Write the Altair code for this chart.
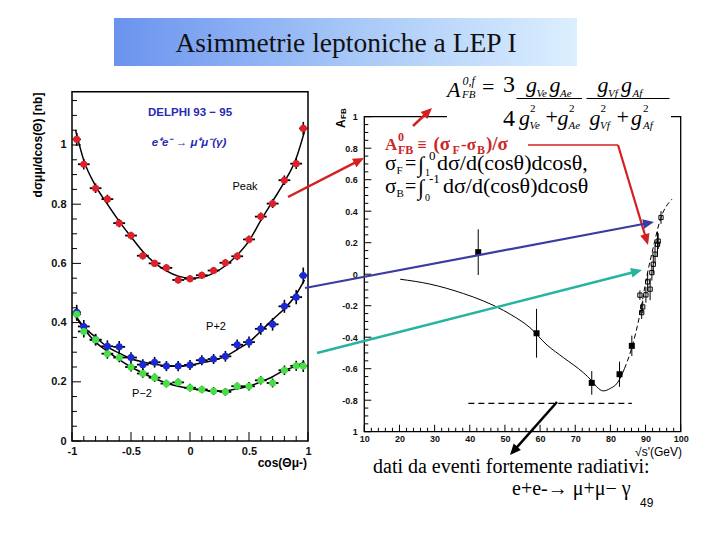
import math
import altair as alt
import pandas as pd

# ---------------------------------------------------------------- data
# left panel: DELPHI 93-95, d(sigma)/d(cos theta) for e+e- -> mu+mu-(gamma)
cos_bins = [-0.96, -0.9, -0.8, -0.7, -0.6, -0.5, -0.4, -0.3, -0.2, -0.1, 0.0,
            0.1, 0.2, 0.3, 0.4, 0.5, 0.6, 0.7, 0.8, 0.9, 0.96]
bin_halfwidth = [0.035, 0.05, 0.05, 0.05, 0.05, 0.05, 0.05, 0.05, 0.05, 0.05, 0.05,
                 0.05, 0.05, 0.05, 0.05, 0.05, 0.05, 0.05, 0.05, 0.05, 0.035]
peak_vals = [1.019, 0.935, 0.854, 0.817, 0.736, 0.694, 0.626, 0.600, 0.585, 0.544, 0.548,
             0.560, 0.576, 0.602, 0.624, 0.681, 0.758, 0.802, 0.881, 0.937, 1.056]
peak_errs = [0.022, 0.018, 0.016, 0.015, 0.014, 0.013, 0.013, 0.012, 0.012, 0.012, 0.012,
             0.012, 0.012, 0.012, 0.013, 0.013, 0.014, 0.015, 0.016, 0.018, 0.022]
pp2_vals = [0.435, 0.387, 0.342, 0.320, 0.318, 0.282, 0.258, 0.266, 0.253, 0.253, 0.257,
            0.273, 0.277, 0.286, 0.325, 0.334, 0.379, 0.394, 0.455, 0.486, 0.559]
pp2_errs = [0.025, 0.022, 0.020, 0.020, 0.020, 0.018, 0.018, 0.018, 0.017, 0.017, 0.017,
            0.017, 0.017, 0.018, 0.018, 0.019, 0.020, 0.021, 0.022, 0.024, 0.027]
pm2_vals = [0.428, 0.370, 0.342, 0.295, 0.282, 0.250, 0.228, 0.214, 0.194, 0.198, 0.180,
            0.174, 0.169, 0.166, 0.185, 0.185, 0.205, 0.196, 0.239, 0.254, 0.253]
pm2_errs = [0.022, 0.020, 0.018, 0.017, 0.016, 0.015, 0.014, 0.014, 0.013, 0.013, 0.013,
            0.013, 0.013, 0.013, 0.013, 0.014, 0.014, 0.015, 0.016, 0.017, 0.020]
series_names = ["Peak", "P+2", "P-2"]
series_colors = ["#e0202a", "#1a28d8", "#44e044"]

fit_cos = [-0.97, -0.9, -0.8, -0.7, -0.6, -0.5, -0.4, -0.3, -0.2, -0.1, 0.0,
           0.1, 0.2, 0.3, 0.4, 0.5, 0.6, 0.7, 0.8, 0.9, 0.97]
peak_fit = [1.05, 0.948, 0.862, 0.80, 0.742, 0.69, 0.64, 0.602, 0.575, 0.557, 0.55,
            0.553, 0.567, 0.592, 0.628, 0.676, 0.745, 0.81, 0.875, 0.955, 1.045]
pp2_fit = [0.424, 0.385, 0.351, 0.318, 0.297, 0.278, 0.267, 0.259, 0.254, 0.253, 0.256,
           0.264, 0.273, 0.286, 0.309, 0.334, 0.371, 0.41, 0.447, 0.495, 0.544]
pm2_fit = [0.421, 0.38, 0.334, 0.303, 0.275, 0.25, 0.23, 0.211, 0.196, 0.185, 0.177,
           0.172, 0.169, 0.169, 0.177, 0.185, 0.2, 0.217, 0.239, 0.253, 0.267]

left_x_major = [-1, -0.5, 0, 0.5, 1]
left_x_minor = [-0.9, -0.8, -0.7, -0.6, -0.4, -0.3, -0.2, -0.1,
                0.1, 0.2, 0.3, 0.4, 0.6, 0.7, 0.8, 0.9]
left_y_major = [0, 0.2, 0.4, 0.6, 0.8, 1]
left_y_minor = [0.05, 0.1, 0.15, 0.25, 0.3, 0.35, 0.45, 0.5, 0.55, 0.65, 0.7, 0.75,
                0.85, 0.9, 0.95, 1.05, 1.1, 1.15]

# right panel: A_FB vs sqrt(s')
rad_sqrts = [42.4, 59.0, 74.7, 82.6, 86.1]
rad_afb = [0.14, -0.375, -0.69, -0.635, -0.455]
rad_err = [0.145, 0.155, 0.075, 0.08, 0.065]

zpk_sqrts = [88.4, 88.9, 89.2, 90.1, 90.6, 91.3, 91.8, 92.2, 92.7, 93.4, 93.6, 94.4]
zpk_afb = [-0.133, -0.244, -0.208, -0.131, -0.049, -0.095, 0.01, 0.063, 0.127, 0.19, 0.21, 0.36]
zpk_err = [0.03, 0.04, 0.04, 0.05, 0.06, 0.07, 0.05, 0.06, 0.06, 0.08, 0.05, 0.04]

curve_x = [20.2, 28.7, 38.2, 43.9, 51.5, 57.1, 62.0, 66.6, 72.3, 74.7, 76.1, 78.0,
           80.0, 82.0, 84.0, 86.1, 88.4, 90.3, 92.2, 94.1, 97.5]
curve_y = [-0.032, -0.063, -0.123, -0.17, -0.254, -0.339, -0.45, -0.529, -0.625, -0.677,
           -0.715, -0.741, -0.725, -0.69, -0.6, -0.466, -0.254, -0.02, 0.17, 0.34, 0.476]
curve_dash_from = 84.0
lowlimit_x = [39.6, 86.1]
lowlimit_y = -0.82

right_x_major = [10, 20, 30, 40, 50, 60, 70, 80, 90, 100]
right_x_minor = [v for v in range(12, 100, 2) if v % 10]
right_y_major = [-1, -0.8, -0.6, -0.4, -0.2, 0, 0.2, 0.4, 0.6, 0.8, 1]
right_y_minor = [round(-1 + 0.05 * i, 2) for i in range(41) if i % 4]

# ---------------------------------------------------------------- helpers
OFF = 8


def P(v):
    return v - OFF


SERIF = "Liberation Serif"
SANS = "Liberation Sans"

LX = alt.Scale(domain=[-1, 1], range=[P(72), P(308)], nice=False, zero=False)
LY = alt.Scale(domain=[0, 1.18], range=[P(441), P(91.7)], nice=False, zero=False)
RX = alt.Scale(domain=[10, 100], range=[P(364.3), P(680.7)], nice=False, zero=False)
RY = alt.Scale(domain=[-1, 1], range=[P(431.7), P(116.7)], nice=False, zero=False)

DUMMY = pd.DataFrame({"k": [0]})


def X(f, sc):
    return alt.X(f, type="quantitative", scale=sc, axis=None)


def Y(f, sc):
    return alt.Y(f, type="quantitative", scale=sc, axis=None)


def frame(sx, sy, x0, x1, y0, y1, w=1.5):
    return alt.Chart(DUMMY).mark_rect(fill="white", fillOpacity=0, stroke="black", strokeWidth=w).encode(
        x=alt.XDatum(x0, type="quantitative", scale=sx, axis=None), x2=alt.X2Datum(x1),
        y=alt.YDatum(y0, type="quantitative", scale=sy, axis=None), y2=alt.Y2Datum(y1))


def xticks(vals, sx, sy, y0, length):
    return alt.Chart(pd.DataFrame({"v": vals})).mark_tick(
        orient="vertical", size=length, thickness=1, yOffset=-length / 2, color="black", opacity=1
    ).encode(x=X("v", sx), y=alt.YDatum(y0, type="quantitative", scale=sy, axis=None))


def yticks(vals, sx, sy, x0, length):
    return alt.Chart(pd.DataFrame({"v": vals})).mark_tick(
        orient="horizontal", size=length, thickness=1, xOffset=length / 2, color="black", opacity=1
    ).encode(y=Y("v", sy), x=alt.XDatum(x0, type="quantitative", scale=sx, axis=None))


def label_axis(orient, offset, values, size, pad, expr):
    return alt.Axis(orient=orient, offset=offset, values=values, domain=False, ticks=False,
                    grid=False, title=None, labelFont=SANS, labelFontSize=size,
                    labelFontWeight="bold", labelColor="#111111", labelPadding=pad,
                    labelFlush=False, labelOverlap=False, labelExpr=expr)


def text(s, x, y, size, font=SERIF, color="black", align="left", baseline="alphabetic",
         style="normal", weight="normal", angle=0):
    return alt.Chart(DUMMY).mark_text(
        text=s, font=font, fontSize=size, color=color, align=align, baseline=baseline,
        fontStyle=style, fontWeight=weight, angle=angle
    ).encode(x=alt.value(P(x)), y=alt.value(P(y)))


def seg(x1, y1, x2, y2, color, width):
    return alt.Chart(DUMMY).mark_rule(color=color, strokeWidth=width).encode(
        x=alt.value(P(x1)), y=alt.value(P(y1)), x2=alt.value(P(x2)), y2=alt.value(P(y2)))


def arrow(x1, y1, x2, y2, color, width=2.2, head=11):
    dx, dy = x2 - x1, y2 - y1
    L = math.hypot(dx, dy)
    ux, uy = dx / L, dy / L
    side = head * 1.25
    cx, cy = x2 - ux * side / 2, y2 - uy * side / 2
    ang = math.degrees(math.atan2(ux, -uy)) % 360
    hd = alt.Chart(DUMMY).mark_point(
        shape="M0,-1L0.7,0.6L-0.7,0.6Z", filled=True, color=color, opacity=1,
        size=side * side, angle=ang, strokeWidth=0
    ).encode(x=alt.value(P(cx)), y=alt.value(P(cy)))
    return [seg(x1, y1, cx, cy, color, width), hd]


FMT = "replace(format(datum.value, '~g'), '\u2212', '-')"

layers = []

# ---------------------------------------------------------------- title box
layers.append(alt.Chart(DUMMY).mark_rect(fill={
    "gradient": "linear", "x1": 0, "y1": 0, "x2": 1, "y2": 0,
    "stops": [{"offset": 0, "color": "#6a93ee"}, {"offset": 0.5, "color": "#a5c6f7"},
              {"offset": 1, "color": "#dcefff"}]}).encode(
    x=alt.value(P(114)), x2=alt.value(P(577)), y=alt.value(P(18)), y2=alt.value(P(66))))
layers.append(text("Asimmetrie leptoniche a LEP I", 346, 52, 27.5, align="center", color="#111111"))

# ---------------------------------------------------------------- left panel
rows = []
for name, vals, errs in [("Peak", peak_vals, peak_errs), ("P+2", pp2_vals, pp2_errs),
                         ("P-2", pm2_vals, pm2_errs)]:
    for c, hw, v, e in zip(cos_bins, bin_halfwidth, vals, errs):
        rows.append(dict(series=name, cos=c, lo=c - hw, hi=c + hw, val=v, vlo=v - e, vhi=v + e))
ldf = pd.DataFrame(rows)

fits = []
for name, f in [("Peak", peak_fit), ("P+2", pp2_fit), ("P-2", pm2_fit)]:
    for c, v in zip(fit_cos, f):
        fits.append(dict(series=name, cos=c, val=v))
fdf = pd.DataFrame(fits)

layers.append(frame(LX, LY, -1, 1, 0, 1.18))
layers.append(xticks(left_x_major, LX, LY, 0, 9))
layers.append(xticks(left_x_minor, LX, LY, 0, 5))
layers.append(yticks(left_y_major, LX, LY, -1, 9))
layers.append(yticks(left_y_minor, LX, LY, -1, 5))
layers.append(alt.Chart(pd.DataFrame({"v": [0]})).mark_point(opacity=0).encode(
    x=alt.X("v", type="quantitative", scale=LX,
            axis=label_axis("bottom", -91, left_x_major, 11, 4, FMT)),
    y=alt.Y("v", type="quantitative", scale=LY,
            axis=label_axis("left", -64, left_y_major, 11, 6, FMT))))

layers.append(alt.Chart(fdf).mark_line(color="black", strokeWidth=1.5, interpolate="monotone").encode(
    x=X("cos", LX), y=Y("val", LY), detail="series:N"))
layers.append(alt.Chart(ldf).mark_rule(color="black", strokeWidth=1.8).encode(
    x=X("lo", LX), x2="hi:Q", y=Y("val", LY)))
layers.append(alt.Chart(ldf).mark_rule(color="black", strokeWidth=1.6).encode(
    x=X("cos", LX), y=Y("vlo", LY), y2="vhi:Q"))
layers.append(alt.Chart(ldf).mark_circle(size=50, opacity=1).encode(
    x=X("cos", LX), y=Y("val", LY),
    color=alt.Color("series:N", scale=alt.Scale(domain=series_names, range=series_colors), legend=None)))

layers.append(text("DELPHI 93 \u2212 95", 190, 116, 11.5, font=SANS, color="#2a2ab4",
                   align="center", weight="bold"))
layers.append(text("e\u207ae\u207b \u2192 \u03bc\u207a\u03bc\u207b(\u03b3)", 189, 146, 11.5,
                   font=SANS, color="#2a2ab4", align="center", weight="bold", style="italic"))
layers.append(text("Peak", 245, 190, 11, font=SANS, align="center"))
layers.append(text("P+2", 216, 330, 11, font=SANS, align="center"))
layers.append(text("P\u22122", 142, 397, 11, font=SANS, align="center"))
layers.append(text("d\u03c3\u03bc\u03bc/dcos(\u0398) [nb]", 38, 145, 12, font=SANS, weight="bold",
                   align="center", baseline="middle", angle=270))
layers.append(text("cos(\u0398\u03bc-)", 307, 467, 12, font=SANS, weight="bold", align="right"))

# ---------------------------------------------------------------- right panel
cdf = pd.DataFrame({"x": curve_x, "y": curve_y})
rdf = pd.DataFrame({"x": rad_sqrts, "y": rad_afb,
                    "lo": [a - e for a, e in zip(rad_afb, rad_err)],
                    "hi": [a + e for a, e in zip(rad_afb, rad_err)]})
zdf = pd.DataFrame({"x": zpk_sqrts, "y": zpk_afb,
                    "lo": [a - e for a, e in zip(zpk_afb, zpk_err)],
                    "hi": [a + e for a, e in zip(zpk_afb, zpk_err)]})

layers.append(frame(RX, RY, 10, 100, -1, 1, 1.3))
layers.append(xticks(right_x_major, RX, RY, -1, 7))
layers.append(xticks(right_x_minor, RX, RY, -1, 4))
layers.append(yticks(right_y_major, RX, RY, 10, 7))
layers.append(yticks(right_y_minor, RX, RY, 10, 4))
layers.append(alt.Chart(pd.DataFrame({"v": [10]})).mark_point(opacity=0).encode(
    x=alt.X("v", type="quantitative", scale=RX,
            axis=label_axis("bottom", -100.3, right_x_major, 9, 3, FMT)),
    y=alt.YDatum(0, type="quantitative", scale=RY,
                 axis=label_axis("left", -356.3, right_y_major, 9, 7,
                                 "datum.value == -1 ? '1' : " + FMT))))

layers.append(alt.Chart(cdf[cdf.x <= curve_dash_from]).mark_line(
    color="black", strokeWidth=1, interpolate="monotone").encode(x=X("x", RX), y=Y("y", RY)))
layers.append(alt.Chart(cdf[cdf.x >= curve_dash_from]).mark_line(
    color="black", strokeWidth=1, interpolate="monotone", strokeDash=[5, 3]).encode(
    x=X("x", RX), y=Y("y", RY)))
layers.append(alt.Chart(DUMMY).mark_rule(color="black", strokeWidth=1.1, strokeDash=[6, 4]).encode(
    x=alt.XDatum(lowlimit_x[0], type="quantitative", scale=RX, axis=None),
    x2=alt.X2Datum(lowlimit_x[1]),
    y=alt.YDatum(lowlimit_y, type="quantitative", scale=RY, axis=None)))
layers.append(alt.Chart(rdf).mark_rule(color="black", strokeWidth=1).encode(
    x=X("x", RX), y=Y("lo", RY), y2="hi:Q"))
layers.append(alt.Chart(rdf).mark_square(size=36, color="black", opacity=1).encode(
    x=X("x", RX), y=Y("y", RY)))
layers.append(alt.Chart(zdf).mark_rule(color="black", strokeWidth=1).encode(
    x=X("x", RX), y=Y("lo", RY), y2="hi:Q"))
layers.append(alt.Chart(zdf).mark_square(size=18, filled=False, color="black", opacity=1,
                                         strokeWidth=1).encode(x=X("x", RX), y=Y("y", RY)))

layers.append(text("A", 341, 128, 12, font=SANS, weight="bold", angle=270, baseline="middle"))
layers.append(text("FB", 344, 119, 8, font=SANS, weight="bold", angle=270, baseline="middle"))
layers.append(text("\u221as'(GeV)", 682, 456, 12, font=SANS, align="right"))

# ---------------------------------------------------------------- formula (white patch + text)
layers.append(alt.Chart(DUMMY).mark_rect(fill="white").encode(
    x=alt.value(P(447)), x2=alt.value(P(671)), y=alt.value(P(66)), y2=alt.value(P(132))))
formula = [
    ("A", 447, 97, 22, True), ("0,f", 462.5, 85, 12, True), ("FB", 462, 97.5, 11, True),
    ("=", 482, 94, 22, False), ("3", 503, 92, 24, False), ("4", 503, 125.5, 24, False),
    ("g", 526, 91.5, 22, True), ("Ve", 536.5, 97, 11, True),
    ("g", 549.5, 91.5, 22, True), ("Ae", 560, 97, 11, True),
    ("g", 519, 124.5, 22, True), ("2", 530, 111.5, 11, False), ("Ve", 529.5, 129, 11, True),
    ("+", 545.5, 124, 22, False),
    ("g", 557.5, 124.5, 22, True), ("2", 569, 111.5, 11, False), ("Ae", 568.5, 129, 11, True),
    ("g", 597.5, 91.5, 22, True), ("Vf", 608, 97, 11, True),
    ("g", 621, 91.5, 22, True), ("Af", 632.5, 97, 11, True),
    ("g", 589.5, 124.5, 22, True), ("2", 600.5, 111.5, 11, False), ("Vf", 600, 129, 11, True),
    ("+", 616.5, 124, 22, False),
    ("g", 631, 124.5, 22, True), ("2", 643, 111.5, 11, False), ("Af", 643, 129, 11, True),
]
for s, x, y, sz, it in formula:
    layers.append(text(s, x, y, sz, style="italic" if it else "normal"))
layers.append(seg(516.5, 98.5, 582, 98.5, "black", 1))
layers.append(seg(586.5, 98.5, 669.5, 98.5, "black", 1))

# ---------------------------------------------------------------- definitions text
RED = "#c82828"
defs = [
    ("A", 385, 150, 17, RED, "bold"), ("0", 398, 141, 12, RED, "bold"),
    ("FB", 398, 154, 12, RED, "bold"), ("\u2261", 417.5, 150, 16, RED, "bold"),
    ("(\u03c3", 433.5, 150, 19, RED, "bold"),
    ("F", 452.5, 154, 12, RED, "bold"), ("-\u03c3", 461, 150, 17, RED, "bold"),
    ("B", 477, 154, 12, RED, "bold"), (")/\u03c3", 486, 150, 19, RED, "bold"),
    ("\u03c3", 385, 170, 21, "black", "normal"), ("F", 396.5, 174, 11, "black", "normal"),
    ("=", 405, 170, 20, "black", "normal"), ("\u222b", 418, 172, 22, "black", "normal"),
    ("1", 425, 176, 10, "black", "normal"), ("0", 429, 160, 13, "black", "normal"),
    ("d\u03c3/d(cos\u03b8)dcos\u03b8,", 437, 170, 22, "black", "normal"),
    ("\u03c3", 385, 193, 21, "black", "normal"), ("B", 396.5, 197, 11, "black", "normal"),
    ("=", 405, 193, 20, "black", "normal"), ("\u222b", 418, 195, 22, "black", "normal"),
    ("0", 425, 201, 10, "black", "normal"), ("-1", 429, 183, 13, "black", "normal"),
    ("d\u03c3/d(cos\u03b8)dcos\u03b8", 443, 193, 22, "black", "normal"),
]
for s, x, y, sz, col, wt in defs:
    layers.append(text(s, x, y, sz, color=col, weight=wt))

# ---------------------------------------------------------------- arrows
layers += arrow(288, 197, 364, 158, "#d42020", 2.5)
layers += arrow(413, 126, 432, 108, "#d42020", 2.5)
layers.append(seg(528, 145, 618, 145, "#d42020", 1.5))
layers += arrow(618, 145, 648, 245, "#d42020", 2.2)
layers += arrow(305, 288, 654, 222, "#3c3ca0", 2.2)
layers += arrow(317, 353, 642, 270, "#26b4a0", 2.5)
layers += arrow(557, 402, 510, 455, "black", 2.5)

# ---------------------------------------------------------------- bottom text
layers.append(text("dati da eventi fortemente radiativi:", 373, 473, 20))
layers.append(text("e+e-\u2192 \u03bc+\u03bc\u2212 \u03b3", 512, 495, 20))
layers.append(text("49", 640, 507, 12, font=SANS))

chart = alt.layer(*layers).resolve_scale(x="independent", y="independent").properties(
    width=704, height=524, autosize=alt.AutoSizeParams(type="none"), padding=0,
    background="white").configure_view(stroke=None)

chart.save("out.html", embed_options={"renderer": "svg", "actions": False})
